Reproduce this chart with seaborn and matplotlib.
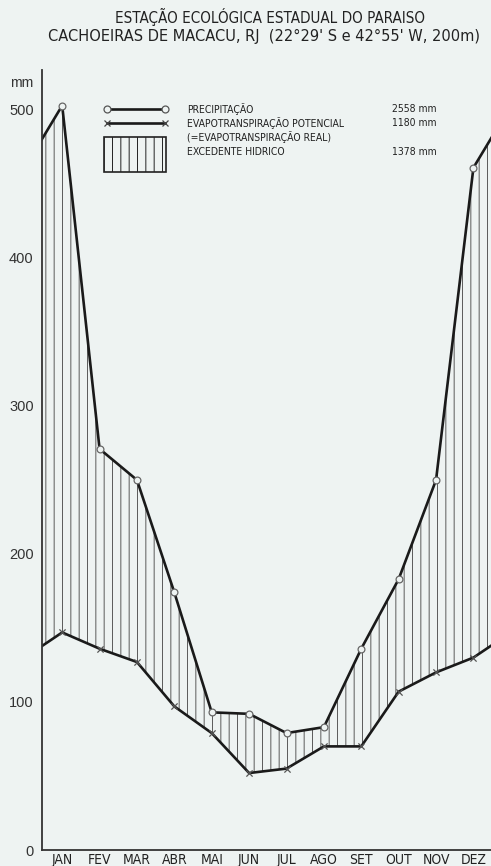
import numpy as np
import pandas as pd
import matplotlib
matplotlib.use("Agg")
import matplotlib.pyplot as plt
from matplotlib.patches import Rectangle
import seaborn as sns

# ---- data ----
months = ['JAN', 'FEV', 'MAR', 'ABR', 'MAI', 'JUN', 'JUL', 'AGO', 'SET', 'OUT', 'NOV', 'DEZ']
precipitacao = [503, 271, 250, 174, 93, 92, 79, 83, 136, 183, 250, 461]
evapotranspiracao = [147, 136, 127, 97, 79, 52, 55, 70, 70, 107, 120, 130]
yticks = [0, 100, 200, 300, 400, 500]
legend_labels = ['PRECIPITAÇÃO', 'EVAPOTRANSPIRAÇÃO POTENCIAL', '(=EVAPOTRANSPIRAÇÃO REAL)', 'EXCEDENTE HIDRICO']
legend_totals = ['2558 mm', '1180 mm', '1378 mm']
title1 = 'ESTAÇÃO ECOLÓGICA ESTADUAL DO PARAISO'
title2 = "CACHOEIRAS DE MACACU, RJ  (22°29' S e 42°55' W, 200m)"

sns.set_style('white')
plt.rcParams['font.family'] = ['DejaVu Sans']
plt.rcParams['hatch.linewidth'] = 0.7

BG = '#eef3f2'
INK = '#1a1a1a'
REG = ['Liberation Sans', 'DejaVu Sans']

W, H = 491, 866
fig = plt.figure(figsize=(W / 100, H / 100), dpi=100)
fig.patch.set_facecolor(BG)
renderer = fig.canvas.get_renderer()


def fx(px):
    return px / W


def fy(py):
    return 1 - py / H


def fit_width(txt, target_px):
    bb = txt.get_window_extent(renderer)
    txt.set_fontsize(txt.get_fontsize() * target_px / bb.width)
    return txt.get_fontsize()


ax = fig.add_axes([fx(42), fy(850), 1 - fx(42), (850 - 70) / H])
ax.set_facecolor(BG)

# cyclic extension so the curves run to both edges
n = len(months)
x = np.arange(n)
x_ext = np.concatenate([[-1], x, [n]])
p_ext = np.concatenate([[precipitacao[-1]], precipitacao, [precipitacao[0]]])
e_ext = np.concatenate([[evapotranspiracao[-1]], evapotranspiracao, [evapotranspiracao[0]]])

df_lines = pd.DataFrame({
    'x': np.concatenate([x_ext, x_ext]),
    'v': np.concatenate([p_ext, e_ext]),
    'serie': ['P'] * len(x_ext) + ['E'] * len(x_ext),
})

# hatched surplus area
ax.fill_between(x_ext, e_ext, p_ext, facecolor='none', edgecolor='#5a5a5a',
                hatch='||', linewidth=0)

sns.lineplot(data=df_lines, x='x', y='v', hue='serie', palette={'P': INK, 'E': INK},
             legend=False, linewidth=1.9, ax=ax, sort=False)

df_pts = pd.DataFrame({'x': x, 'p': precipitacao, 'e': evapotranspiracao})
sns.scatterplot(data=df_pts, x='x', y='p', marker='o', s=24, facecolors=BG,
                edgecolor='#666666', linewidth=0.9, ax=ax, zorder=5)
sns.scatterplot(data=df_pts, x='x', y='e', marker='x', s=20, color='#555555',
                linewidth=0.9, ax=ax, zorder=5)

ax.set_xlim(-0.54, 11.47)
ax.set_ylim(0, 527)
ax.set_xticks(x)
ax.set_xticklabels(months, fontsize=10, fontstretch='condensed', color='#222222')
ax.set_yticks(yticks)
ax.set_yticklabels([str(t) for t in yticks], fontsize=10.5, family=REG, color='#333333')
ax.tick_params(axis='both', length=0, pad=6)
ax.tick_params(axis='x', pad=2)
ax.set_xlabel('')
ax.set_ylabel('')
for s in ['top', 'right']:
    ax.spines[s].set_visible(False)
for s in ['left', 'bottom']:
    ax.spines[s].set_color('#333333')
    ax.spines[s].set_linewidth(1.3)

# titles
t1 = fig.text(fx(270), fy(17), title1, ha='center', va='center', fontsize=11,
              fontstretch='condensed', color='#222222')
t2 = fig.text(fx(264), fy(36), title2, ha='center', va='center', fontsize=11,
              fontstretch='condensed', color='#222222')
fit_width(t1, 310)
fit_width(t2, 432)
fig.text(fx(22), fy(83), 'mm', ha='center', va='center', fontsize=10, family=REG, color='#333333')

# legend (drawn by hand)
ax.plot([fx(107), fx(165)], [fy(109), fy(109)], transform=fig.transFigure, color=INK,
        lw=1.9, clip_on=False)
ax.plot([fx(107), fx(165)], [fy(109), fy(109)], transform=fig.transFigure, ls='none',
        marker='o', ms=5, mfc=BG, mec='#555555', mew=0.9, clip_on=False)
ax.plot([fx(107), fx(165)], [fy(123), fy(123)], transform=fig.transFigure, color=INK,
        lw=1.9, clip_on=False)
ax.plot([fx(107), fx(165)], [fy(123), fy(123)], transform=fig.transFigure, ls='none',
        marker='x', ms=5, mec='#444444', mew=0.9, clip_on=False)
rect = Rectangle((fx(104), fy(172)), fx(166) - fx(104), (172 - 137) / H,
                 transform=fig.transFigure, facecolor='none', edgecolor='#222222',
                 hatch='||', linewidth=1.2)
fig.patches.append(rect)

ys = [109, 123, 137, 152]
texts = []
for lab, yy in zip(legend_labels, ys):
    texts.append(fig.text(fx(187), fy(yy), lab, ha='left', va='center', fontsize=8,
                          fontstretch='condensed', color='#222222'))
size = fit_width(texts[1], 158)
for t in texts:
    t.set_fontsize(size)
for tot, yy in zip(legend_totals, [109, 123, 152]):
    fig.text(fx(437), fy(yy), tot, ha='right', va='center', fontsize=size,
             fontstretch='condensed', color='#222222')

fig.savefig('out.png', dpi=100, facecolor=BG)
